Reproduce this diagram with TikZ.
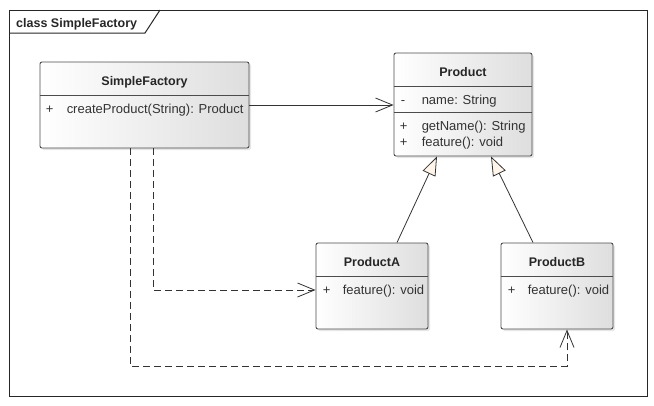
\documentclass[tikz,border=0pt]{standalone}
\usepackage{fontspec}
\setmainfont{Liberation Sans}
\usepackage{tikz}
\usetikzlibrary{positioning}
\usetikzlibrary{arrows.meta,shadows}
\tikzset{
    classBox/.style={draw=black!70, line width=0.9pt, rounded corners=2pt,
		left color=white, right color=black!13, inner sep=0pt,
		drop shadow={opacity=0.2, shadow xshift=2pt, shadow yshift=-2pt}},
    className/.style={font=\bfseries\fontsize{12.5}{15}\selectfont, text=black!85, anchor=base, inner sep=0pt},
    member/.style={font=\fontsize{13}{15}\selectfont, text=black!80, anchor=base west, inner sep=0pt},
    sepLine/.style={draw=black!70, line width=0.9pt},
}
\tikzset{
    assoc/.style={draw=black!80, line width=0.8pt, -{Straight Barb[length=17pt,width=14pt]}},
    dep/.style={assoc, dash pattern=on 7pt off 4pt},
    inherit/.style={draw=black!80, line width=0.8pt, -{Triangle[length=19pt,width=14pt,fill=orange!8]}},
}

\begin{document}
\begin{tikzpicture}[x=1pt, y=-1pt]
			\useasboundingbox (0,0) rectangle (654,405);
			\draw[black!85, line width=1pt] (9,10) rectangle (647,396);
			\draw[black!85, line width=1pt] (9,33) -- (145,33) -- (160,10);
			\node[className, anchor=base west] (frameTitle) at (16,27) {class SimpleFactory};
			% classes
			\node[classBox, minimum width=209pt, minimum height=86pt] (factory) at (144.5,105) {};
			\node[classBox, minimum width=138pt, minimum height=103pt] (product) at (463,104.5) {};
			\node[classBox, minimum width=112pt, minimum height=86pt] (productA) at (372,286) {};
			\node[classBox, minimum width=112pt, minimum height=86pt] (productB) at (557,286) {};
			\draw[sepLine] ([yshift=-34pt]factory.north west) -- ([yshift=-34pt]factory.north east);
			\draw[sepLine] ([yshift=-34pt]product.north west) -- ([yshift=-34pt]product.north east);
			\draw[sepLine] ([yshift=-60pt]product.north west) -- ([yshift=-60pt]product.north east);
			\draw[sepLine] ([yshift=-34pt]productA.north west) -- ([yshift=-34pt]productA.north east);
			\draw[sepLine] ([yshift=-34pt]productB.north west) -- ([yshift=-34pt]productB.north east);
			\node[className] (factoryName) at ([yshift=-24pt]factory.north) {SimpleFactory};
			\node[className] (productName) at ([yshift=-24pt]product.north) {Product};
			\node[className] (productAName) at ([yshift=-24pt]productA.north) {ProductA};
			\node[className] (productBName) at ([yshift=-24pt]productB.north) {ProductB};
			\node[member] (factoryOpMark) at ([xshift=6pt, yshift=-51.5pt]factory.north west) {+};
			\node[member] (factoryOp) at ([xshift=27pt, yshift=-51.5pt]factory.north west) {createProduct(String): Product};
			\node[member] (productAttrMark) at ([xshift=7pt, yshift=-51.5pt]product.north west) {-};
			\node[member] (productAttr) at ([xshift=28pt, yshift=-51.5pt]product.north west) {name: String};
			\node[member] (productOpMark1) at ([xshift=6pt, yshift=-78pt]product.north west) {+};
			\node[member] (productOp1) at ([xshift=28pt, yshift=-78pt]product.north west) {getName(): String};
			\node[member] (productOpMark2) at ([xshift=6pt, yshift=-94pt]product.north west) {+};
			\node[member] (productOp2) at ([xshift=28pt, yshift=-94pt]product.north west) {feature(): void};
			\node[member] (productAOpMark) at ([xshift=7pt, yshift=-52pt]productA.north west) {+};
			\node[member] (productAOp) at ([xshift=27pt, yshift=-52pt]productA.north west) {feature(): void};
			\node[member] (productBOpMark) at ([xshift=7pt, yshift=-52pt]productB.north west) {+};
			\node[member] (productBOp) at ([xshift=27pt, yshift=-52pt]productB.north west) {feature(): void};
			% connectors
			\coordinate (depA) at ([xshift=8.5pt]factory.south);
			\coordinate (depB) at ([xshift=-14.5pt]factory.south);
			\coordinate (depBEnd) at ([xshift=10pt]productB.south);
			\draw[assoc] (factory.east) -- (factory.east -| product.west);
			\draw[inherit] ([xshift=25pt]productA.north) -- ([xshift=-26pt]product.south);
			\draw[inherit] ([xshift=-24pt]productB.north) -- ([xshift=28pt]product.south);
			\draw[dep] (depA) |- ([yshift=-4pt]productA.west);
			\draw[dep] (depB) |- ([yshift=-37pt]depBEnd) -- (depBEnd);
\end{tikzpicture}
\end{document}
